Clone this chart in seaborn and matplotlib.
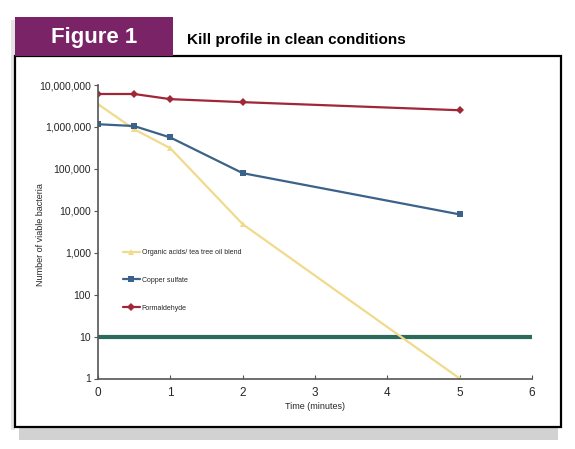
import pandas as pd
import matplotlib.pyplot as plt
import seaborn as sns
from matplotlib.patches import Rectangle
from matplotlib.ticker import FuncFormatter, NullLocator, FixedLocator

# Kill profile data
time_min = [0, 0.5, 1, 2, 5]
organic = [3.5e6, 8.8e5, 3.1e5, 4.8e3, 1]
copper = [1.16e6, 1.05e6, 5.6e5, 7.9e4, 8.2e3]
formaldehyde = [6.1e6, 6.1e6, 4.6e6, 3.9e6, 2.5e6]
threshold = 10
agents = ["Organic acids/ tea tree oil blend", "Copper sulfate", "Formaldehyde"]
y_ticks = [1, 10, 100, 1000, 10000, 100000, 1000000, 10000000]
x_ticks = [0, 1, 2, 3, 4, 5, 6]

df = pd.concat([
    pd.DataFrame({"time": time_min, "count": organic, "agent": agents[0]}),
    pd.DataFrame({"time": time_min, "count": copper, "agent": agents[1]}),
    pd.DataFrame({"time": time_min, "count": formaldehyde, "agent": agents[2]}),
])

sns.set_style("ticks")
plt.rcParams["font.family"] = ["Liberation Sans Narrow", "Liberation Sans", "DejaVu Sans"]

W, H = 575, 449
fig = plt.figure(figsize=(5.75, 4.49), dpi=100)
ax = fig.add_axes([98 / W, 1 - 378.5 / H, 434 / W, 293.5 / H])

def fx(px):
    return px / W

def fy(py):
    return 1 - py / H

# frame, shadow and header
fig.patches.append(Rectangle((fx(19), fy(440)), fx(539), 13 / H, transform=fig.transFigure,
                             facecolor="#d2d2d2", edgecolor="none", zorder=0))
fig.patches.append(Rectangle((fx(11), fy(430)), fx(4), 410 / H, transform=fig.transFigure,
                             facecolor="#e4e4e4", edgecolor="none", zorder=0))
fig.patches.append(Rectangle((fx(15), fy(427)), fx(546), 371 / H, transform=fig.transFigure,
                             facecolor="white", edgecolor="black", linewidth=1.6, zorder=1))
fig.patches.append(Rectangle((fx(15), fy(56)), fx(158), 39 / H, transform=fig.transFigure,
                             facecolor="#7a2367", edgecolor="none", zorder=2))
fig.text(fx(94), fy(37), "Figure 1", color="white", fontsize=16, fontweight="bold",
         family=["Liberation Sans", "DejaVu Sans"], ha="center", va="center")
fig.text(fx(187), fy(44), "Kill profile in clean conditions", color="black", fontsize=11,
         fontweight="bold", ha="left", va="baseline")

ax.set_zorder(3)
ax.patch.set_alpha(0)

palette = {agents[0]: "#f0da8c", agents[1]: "#3b6288", agents[2]: "#a02638"}
markers = {agents[0]: "^", agents[1]: "s", agents[2]: "D"}
sns.lineplot(data=df, x="time", y="count", hue="agent", style="agent", hue_order=agents,
             style_order=agents, palette=palette, markers=markers, dashes=False,
             markersize=4.5, markeredgewidth=0, linewidth=1.6, ax=ax)

ax.axhline(threshold, color="#2b6b5b", linewidth=3, zorder=1)

ax.set_yscale("log")
ax.set_xlim(0, 6)
ax.set_ylim(1, 1e7)
ax.yaxis.set_major_locator(FixedLocator(y_ticks))
ax.yaxis.set_minor_locator(NullLocator())
ax.yaxis.set_major_formatter(FuncFormatter(lambda v, p: f"{int(round(v)):,}"))
ax.set_xticks(x_ticks)
ax.tick_params(axis="y", direction="out", length=3, width=0.8, color="#555555",
               labelsize=7.5, pad=2)
ax.tick_params(axis="x", direction="in", length=3, width=0.8, color="#555555",
               labelsize=8.5, pad=6)
for s in ["left", "bottom"]:
    ax.spines[s].set_color("#555555")
    ax.spines[s].set_linewidth(1.2)
sns.despine(ax=ax)

ax.set_xlabel("Time (minutes)", fontsize=6.5, labelpad=2)
ax.set_ylabel("Number of viable bacteria", fontsize=6.5)
ax.yaxis.set_label_coords((45 - 98) / 434, 0.49)

sns.move_legend(ax, "upper left", bbox_to_anchor=(fx(123), fy(249)),
                bbox_transform=fig.transFigure, frameon=False, fontsize=5,
                handlelength=2.4, handletextpad=0.3, labelspacing=3.0,
                borderpad=0, borderaxespad=0, title=None)

fig.savefig("out.png", dpi=100)
